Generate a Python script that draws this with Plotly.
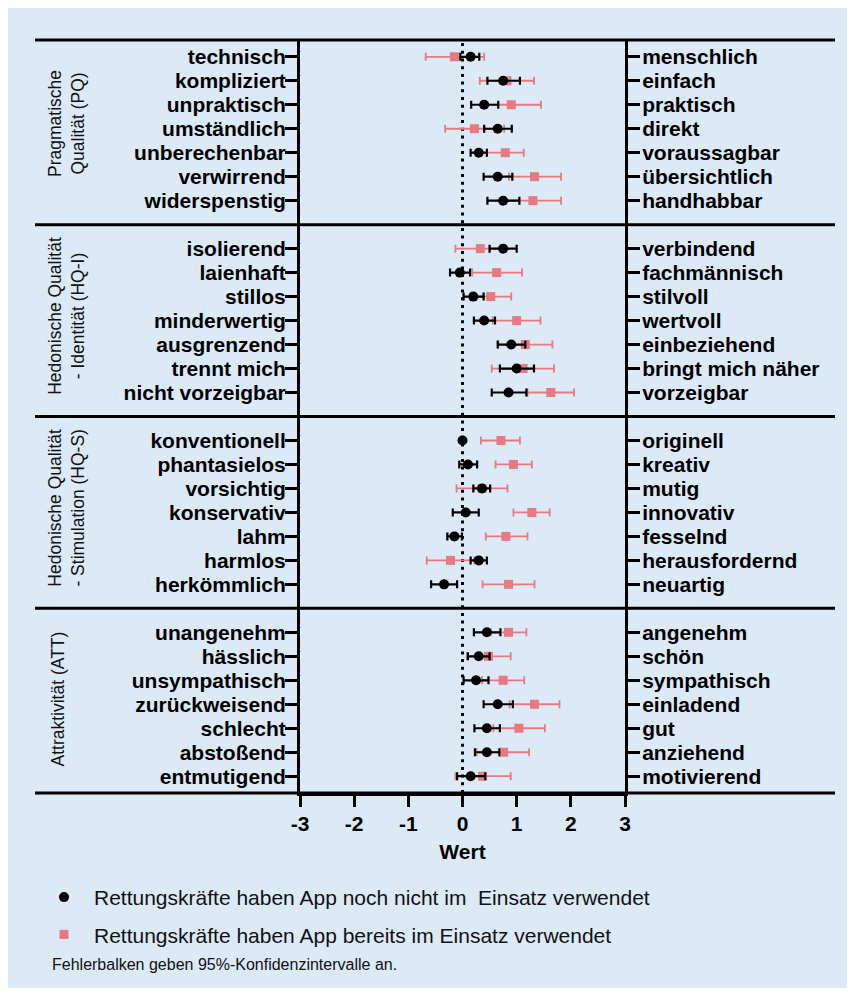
import plotly.graph_objects as go

# ---------------- data ----------------
group_names = [
    "Pragmatische<br>Qualität (PQ)",
    "Hedonische Qualität<br>- Identität (HQ-I)",
    "Hedonische Qualität<br>- Stimulation (HQ-S)",
    "Attraktivität (ATT)",
]
left_labels = [
    ["technisch", "kompliziert", "unpraktisch", "umständlich", "unberechenbar", "verwirrend", "widerspenstig"],
    ["isolierend", "laienhaft", "stillos", "minderwertig", "ausgrenzend", "trennt mich", "nicht vorzeigbar"],
    ["konventionell", "phantasielos", "vorsichtig", "konservativ", "lahm", "harmlos", "herkömmlich"],
    ["unangenehm", "hässlich", "unsympathisch", "zurückweisend", "schlecht", "abstoßend", "entmutigend"],
]
right_labels = [
    ["menschlich", "einfach", "praktisch", "direkt", "voraussagbar", "übersichtlich", "handhabbar"],
    ["verbindend", "fachmännisch", "stilvoll", "wertvoll", "einbeziehend", "bringt mich näher", "vorzeigbar"],
    ["originell", "kreativ", "mutig", "innovativ", "fesselnd", "herausfordernd", "neuartig"],
    ["angenehm", "schön", "sympathisch", "einladend", "gut", "anziehend", "motivierend"],
]

# Rettungskräfte haben App noch nicht im Einsatz verwendet (black)
black_mean = [0.15, 0.75, 0.40, 0.65, 0.30, 0.65, 0.75,
              0.75, -0.05, 0.20, 0.40, 0.90, 1.00, 0.85,
              0.00, 0.10, 0.36, 0.06, -0.15, 0.30, -0.34,
              0.45, 0.30, 0.25, 0.65, 0.45, 0.45, 0.15]
black_low = [-0.04, 0.46, 0.16, 0.40, 0.15, 0.39, 0.46,
             0.50, -0.23, 0.02, 0.21, 0.65, 0.69, 0.54,
             -0.02, -0.06, 0.20, -0.18, -0.28, 0.15, -0.58,
             0.21, 0.10, 0.02, 0.39, 0.22, 0.23, -0.10]
black_high = [0.31, 1.06, 0.66, 0.91, 0.45, 0.92, 1.05,
              1.00, 0.14, 0.39, 0.60, 1.16, 1.32, 1.18,
              0.02, 0.27, 0.51, 0.30, -0.01, 0.45, -0.10,
              0.70, 0.50, 0.48, 0.93, 0.69, 0.68, 0.42]

# Rettungskräfte haben App bereits im Einsatz verwendet (pink)
pink_mean = [-0.15, 0.82, 0.90, 0.22, 0.79, 1.33, 1.30,
             0.33, 0.63, 0.52, 1.00, 1.16, 1.12, 1.63,
             0.71, 0.94, 0.36, 1.28, 0.80, -0.22, 0.85,
             0.85, 0.48, 0.75, 1.33, 1.04, 0.76, 0.37]
pink_low = [-0.68, 0.32, 0.35, -0.32, 0.45, 0.86, 0.78,
            -0.13, 0.18, 0.14, 0.56, 0.66, 0.54, 1.20,
            0.34, 0.61, -0.11, 0.94, 0.43, -0.66, 0.37,
            0.52, 0.08, 0.36, 0.87, 0.57, 0.26, -0.13]
pink_high = [0.40, 1.32, 1.45, 0.77, 1.13, 1.82, 1.82,
             0.79, 1.10, 0.90, 1.44, 1.66, 1.69, 2.06,
             1.06, 1.28, 0.83, 1.61, 1.20, 0.22, 1.33,
             1.18, 0.89, 1.14, 1.79, 1.52, 1.23, 0.89]

x_ticks = [-3, -2, -1, 0, 1, 2, 3]
legend_names = ["Rettungskräfte haben App noch nicht im\u00a0 Einsatz verwendet",
                "Rettungskräfte haben App bereits im Einsatz verwendet"]
footnote = "Fehlerbalken geben 95%-Konfidenzintervalle an."
x_title = "Wert"

# ---------------- layout helpers ----------------
GROUP_STEP = 8  # 7 rows + 1 gap slot
pos, lt, rt = [], [], []
for g, (ll, rl) in enumerate(zip(left_labels, right_labels)):
    for i, (a, b) in enumerate(zip(ll, rl)):
        pos.append(g * GROUP_STEP + i)
        lt.append(a)
        rt.append(b)

Y0, Y1 = 30.7, -0.7  # reversed range

# page has an 8px body margin; figure sized to fit the window
W, H = 839, 980
PL, PR = 300, 625        # plot area, absolute page px
PT, PB = 39.5, 793


def xp(px):
    return (px - PL) / (PR - PL)


def ypx(py):
    return (PB - py) / (PB - PT)


def ypaper(k):
    return (Y0 - k) / (Y0 - Y1)


BG = "#dce9f7"
PINK = "#e57a80"
FONT = "Arial, Liberation Sans, sans-serif"

fig = go.Figure()

fig.add_trace(go.Scatter(
    x=pink_mean, y=pos, mode="markers", name=legend_names[1], legendgroup="b",
    marker=dict(symbol="square", size=9, color=PINK),
    error_x=dict(type="data", symmetric=False,
                 array=[h - m for h, m in zip(pink_high, pink_mean)],
                 arrayminus=[m - l for m, l in zip(pink_mean, pink_low)],
                 color=PINK, thickness=1.8, width=4),
    legendrank=2,
))
fig.add_trace(go.Scatter(
    x=black_mean, y=pos, mode="markers", name=legend_names[0], legendgroup="a",
    yaxis="y2",
    marker=dict(symbol="circle", size=10, color="black"),
    error_x=dict(type="data", symmetric=False,
                 array=[h - m for h, m in zip(black_high, black_mean)],
                 arrayminus=[m - l for m, l in zip(black_mean, black_low)],
                 color="black", thickness=2.2, width=4),
    legendrank=1,
))

shapes = []
XL, XR = xp(35), xp(835)
for k in [Y1, 7, 15, 23, Y0]:
    yp = ypaper(k)
    shapes.append(dict(type="line", xref="paper", yref="paper", x0=XL, x1=XR, y0=yp, y1=yp,
                       line=dict(color="black", width=3)))
shapes.append(dict(type="line", xref="x", yref="paper", x0=0, x1=0, y0=0, y1=1,
                   line=dict(color="black", width=3, dash="3px,4.7px"), layer="below"))

annotations = []
group_x = [xp(67), xp(67), xp(67), xp(58)]
for g, name in enumerate(group_names):
    annotations.append(dict(text=name, xref="paper", yref="y", x=group_x[g], y=g * GROUP_STEP + 2.8,
                            xanchor="center", yanchor="middle",
                            textangle=-90, showarrow=False, align="center",
                            font=dict(family=FONT, size=17.5, color="#111")))
annotations.append(dict(text=footnote, xref="paper", yref="paper", x=xp(50),
                        y=ypx(965), xanchor="left", yanchor="middle", showarrow=False,
                        font=dict(family=FONT, size=16, color="#111")))

tickfont = dict(family=FONT, size=21, color="black", weight="bold")

fig.update_layout(
    width=W, height=H,
    margin=dict(l=PL - 8, r=W - (PR - 8), t=PT - 8, b=H - (PB - 8)),
    paper_bgcolor=BG, plot_bgcolor=BG,
    shapes=shapes, annotations=annotations,
    showlegend=True,
    legend=dict(x=xp(34), y=ypx(877), xanchor="left", yanchor="top",
                bgcolor="rgba(0,0,0,0)", font=dict(family=FONT, size=21, color="#111"),
                tracegroupgap=7, itemwidth=50, traceorder="grouped"),
    xaxis=dict(range=[-3, 3], tickvals=x_ticks, ticktext=[str(v) for v in x_ticks],
               showgrid=False, zeroline=False, showline=True, linecolor="black", linewidth=3,
               ticks="outside", ticklen=11, tickwidth=3, tickcolor="black",
               tickfont=tickfont, ticklabelstandoff=-1,
               title=dict(text=x_title, font=dict(family=FONT, size=21, color="black", weight="bold"),
                          standoff=11)),
    yaxis=dict(range=[Y0, Y1], tickvals=pos, ticktext=lt, showgrid=False, zeroline=False,
               showline=True, linecolor="black", linewidth=3, ticks="outside", ticklen=12,
               tickwidth=3, tickcolor="black", tickfont=tickfont, ticklabelstandoff=-5),
    yaxis2=dict(range=[Y0, Y1], tickvals=pos, ticktext=rt, overlaying="y", side="right",
                showgrid=False, zeroline=False, showline=True, linecolor="black", linewidth=3,
                ticks="outside", ticklen=12, tickwidth=3, tickcolor="black", tickfont=tickfont,
                ticklabelstandoff=-2),
)

fig.write_html("out.html")
